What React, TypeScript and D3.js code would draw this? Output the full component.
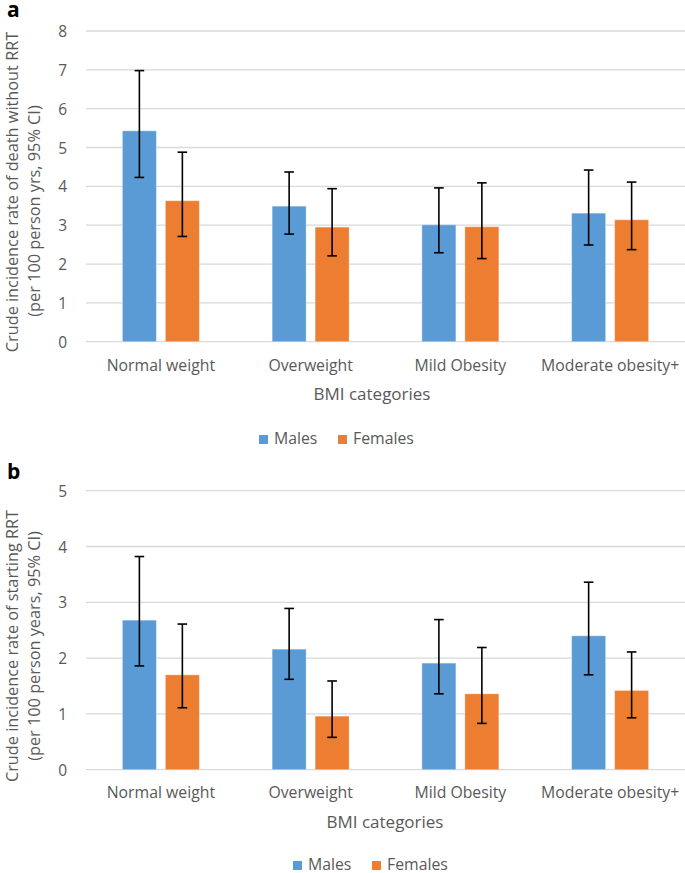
import React from "react";
import * as d3 from "d3";

const categories = ["Normal weight", "Overweight", "Mild Obesity", "Moderate obesity+"];
const seriesNames = ["Males", "Females"];
const seriesColors = ["#5b9bd5", "#ed7d31"];

// Panel a: crude incidence rate of death without RRT
const deathMales = [5.43, 3.49, 3.01, 3.31];
const deathMalesLow = [4.23, 2.77, 2.29, 2.49];
const deathMalesHigh = [6.98, 4.37, 3.96, 4.42];
const deathFemales = [3.63, 2.95, 2.96, 3.14];
const deathFemalesLow = [2.71, 2.21, 2.14, 2.37];
const deathFemalesHigh = [4.88, 3.94, 4.09, 4.11];
const deathTicks = [0, 1, 2, 3, 4, 5, 6, 7, 8];

// Panel b: crude incidence rate of starting RRT
const rrtMales = [2.68, 2.16, 1.91, 2.40];
const rrtMalesLow = [1.86, 1.62, 1.36, 1.70];
const rrtMalesHigh = [3.82, 2.89, 2.69, 3.36];
const rrtFemales = [1.70, 0.96, 1.36, 1.42];
const rrtFemalesLow = [1.11, 0.58, 0.83, 0.93];
const rrtFemalesHigh = [2.61, 1.59, 2.19, 2.11];
const rrtTicks = [0, 1, 2, 3, 4, 5];

const FONT = "'Open Sans', 'DejaVu Sans', sans-serif";
const TXT = "#595959";

type PanelProps = {
  label: string;
  labelY: number;
  top: number;
  bottom: number;
  ticks: number[];
  values: number[][];
  lows: number[][];
  highs: number[][];
  title1: string;
  title2: string;
  title1Y: number;
  title2Y: number;
  catY: number;
  xTitleX: number;
  xTitleY: number;
  legendX: number;
  legendY: number;
};

function Panel(p: PanelProps) {
  const x = d3.scaleBand<string>().domain(categories).range([86, 685]);
  const bw = x.bandwidth();
  const sub = d3
    .scaleBand<string>()
    .domain(seriesNames)
    .range([bw * 0.243, bw * 0.757])
    .paddingInner(0.209);
  const y = d3
    .scaleLinear()
    .domain([0, d3.max(p.ticks) as number])
    .range([p.bottom, p.top]);
  const cap = 4.8;
  return (
    <g>
      <text x={7} y={p.labelY} fontFamily={FONT} fontWeight="bold" fontSize={21} fill="#000">
        {p.label}
      </text>
      {p.ticks.map((t) => (
        <g key={t}>
          <line x1={86} x2={685} y1={y(t)} y2={y(t)} stroke="#d9d9d9" strokeWidth={1.3} />
          <text
            x={67}
            y={y(t)}
            textAnchor="end"
            dominantBaseline="central"
            fontFamily={FONT}
            fontSize={15.5}
            fill={TXT}
          >
            {t}
          </text>
        </g>
      ))}
      {categories.map((c, i) => (
        <g key={c} transform={`translate(${x(c)},0)`}>
          {seriesNames.map((s, j) => {
            const v = p.values[j][i];
            const bx = sub(s) as number;
            const cx = bx + sub.bandwidth() / 2;
            return (
              <g key={s}>
                <rect
                  x={bx}
                  y={y(v)}
                  width={sub.bandwidth()}
                  height={y(0) - y(v)}
                  fill={seriesColors[j]}
                  stroke="#ffffff"
                  strokeOpacity={0.35}
                  strokeWidth={1}
                />
                <line x1={cx} x2={cx} y1={y(p.lows[j][i])} y2={y(p.highs[j][i])} stroke="#000" strokeWidth={1.6} />
                <line x1={cx - cap} x2={cx + cap} y1={y(p.lows[j][i])} y2={y(p.lows[j][i])} stroke="#000" strokeWidth={1.6} />
                <line x1={cx - cap} x2={cx + cap} y1={y(p.highs[j][i])} y2={y(p.highs[j][i])} stroke="#000" strokeWidth={1.6} />
              </g>
            );
          })}
          <text
            x={bw / 2}
            y={p.catY}
            textAnchor="middle"
            fontFamily={FONT}
            fontSize={15.8}
            fill={TXT}
          >
            {c}
          </text>
        </g>
      ))}
      <text x={p.xTitleX} y={p.xTitleY} textAnchor="middle" fontFamily={FONT} fontSize={17} fill={TXT}>
        BMI categories
      </text>
      <text
        transform={`translate(17.5,${p.title1Y}) rotate(-90)`}
        textAnchor="middle"
        fontFamily={FONT}
        fontSize={16.3}
        fill={TXT}
      >
        {p.title1}
      </text>
      <text
        transform={`translate(40,${p.title2Y}) rotate(-90)`}
        textAnchor="middle"
        fontFamily={FONT}
        fontSize={16.3}
        fill={TXT}
      >
        {p.title2}
      </text>
      {seriesNames.map((s, j) => {
        const lx = p.legendX + j * 79;
        return (
          <g key={s}>
            <rect x={lx} y={p.legendY - 9} width={9} height={9} fill={seriesColors[j]} />
            <text x={lx + 15} y={p.legendY} fontFamily={FONT} fontSize={15.8} fill={TXT}>
              {s}
            </text>
          </g>
        );
      })}
    </g>
  );
}

export default function App() {
  return (
    <svg
      width={685}
      height={873}
      style={{ position: "absolute", left: 0, top: 0, background: "#fff" }}
    >
      <rect width={685} height={873} fill="#fff" />
      <Panel
        label="a"
        labelY={17}
        top={31}
        bottom={341.7}
        ticks={deathTicks}
        values={[deathMales, deathFemales]}
        lows={[deathMalesLow, deathFemalesLow]}
        highs={[deathMalesHigh, deathFemalesHigh]}
        title1="Crude incidence rate of death without RRT"
        title2="(per 100 person yrs, 95% CI)"
        title1Y={192}
        title2Y={211}
        catY={371}
        xTitleX={372}
        xTitleY={400}
        legendX={259}
        legendY={444}
      />
      <Panel
        label="b"
        labelY={479}
        top={490.7}
        bottom={769.7}
        ticks={rrtTicks}
        values={[rrtMales, rrtFemales]}
        lows={[rrtMalesLow, rrtFemalesLow]}
        highs={[rrtMalesHigh, rrtFemalesHigh]}
        title1="Crude incidence rate of starting RRT"
        title2="(per 100 person years, 95% CI)"
        title1Y={646}
        title2Y={646}
        catY={798}
        xTitleX={385}
        xTitleY={828}
        legendX={293}
        legendY={870}
      />
    </svg>
  );
}
